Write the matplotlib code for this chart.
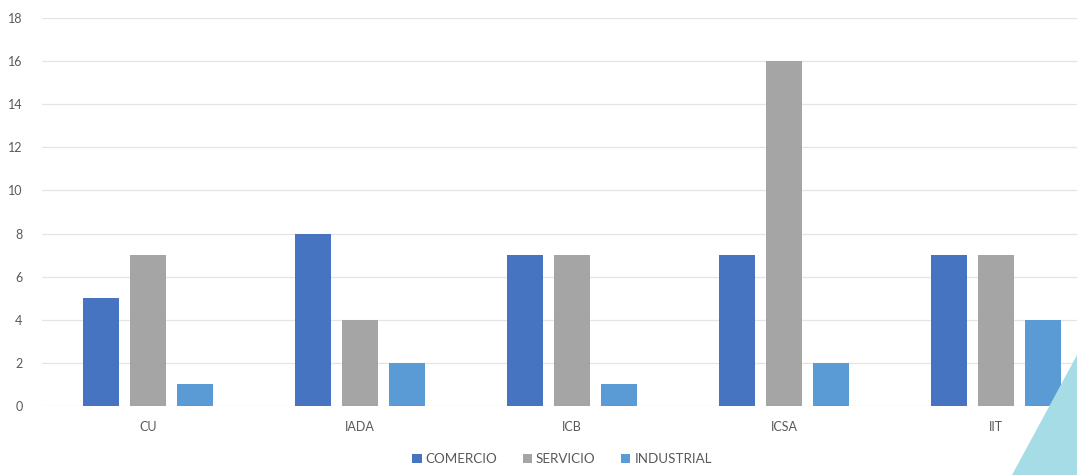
import matplotlib.pyplot as plt
import numpy as np
from matplotlib.patches import Polygon

categories = ["CU", "IADA", "ICB", "ICSA", "IIT"]
comercio = [5, 8, 7, 7, 7]
servicio = [7, 4, 7, 16, 7]
industrial = [1, 2, 1, 2, 4]
series_names = ["COMERCIO", "SERVICIO", "INDUSTRIAL"]
y_ticks = [0, 2, 4, 6, 8, 10, 12, 14, 16, 18]

colors = ["#4674C1", "#A5A5A5", "#5B9BD5"]
text_color = "#595959"

plt.rcParams["font.family"] = ["Lato", "DejaVu Sans"]

W, H = 1077, 475
fig = plt.figure(figsize=(W / 100, H / 100), dpi=100)
fig.patch.set_facecolor("white")

# plot area: left edge at x=42 px, categories 212 px apart (last one runs past the frame)
left, right = 42 / W, (42 + 5 * 212) / W
bottom, top = (H - 406) / H, (H - 18) / H
ax = fig.add_axes([left, bottom, right - left, top - bottom])

x = np.arange(len(categories))
bw = 36 / 212
step = 47 / 212
for i, (vals, name) in enumerate(zip([comercio, servicio, industrial], series_names)):
    ax.bar(x + (i - 1) * step, vals, width=bw, color=colors[i], label=name, zorder=3)

ax.set_xlim(-0.5, len(categories) - 0.5)
ax.set_ylim(0, 18)
ax.set_yticks(y_ticks)
ax.set_xticks(x)
ax.set_xticklabels(categories)
ax.grid(axis="y", color="#E4E4E4", linewidth=0.9, zorder=0)
for s in ax.spines.values():
    s.set_visible(False)
ax.tick_params(axis="both", length=0, labelsize=9, labelcolor=text_color)
ax.tick_params(axis="y", pad=14)
ax.tick_params(axis="x", pad=11)

leg = fig.legend(loc="center", bbox_to_anchor=(562 / W, (H - 459) / H), ncol=3,
                 frameon=False, fontsize=9.6, handlelength=0.7, handleheight=0.7,
                 handletextpad=0.3, columnspacing=1.9)
for t in leg.get_texts():
    t.set_color(text_color)

# decorative corner triangle
tri = Polygon([(1012 / W, 0), (1, (H - 355) / H), (1, 0)], closed=True,
              transform=fig.transFigure, facecolor="#A6DCE6", edgecolor="none", zorder=5)
fig.patches.append(tri)

fig.savefig("out.png", dpi=100)
